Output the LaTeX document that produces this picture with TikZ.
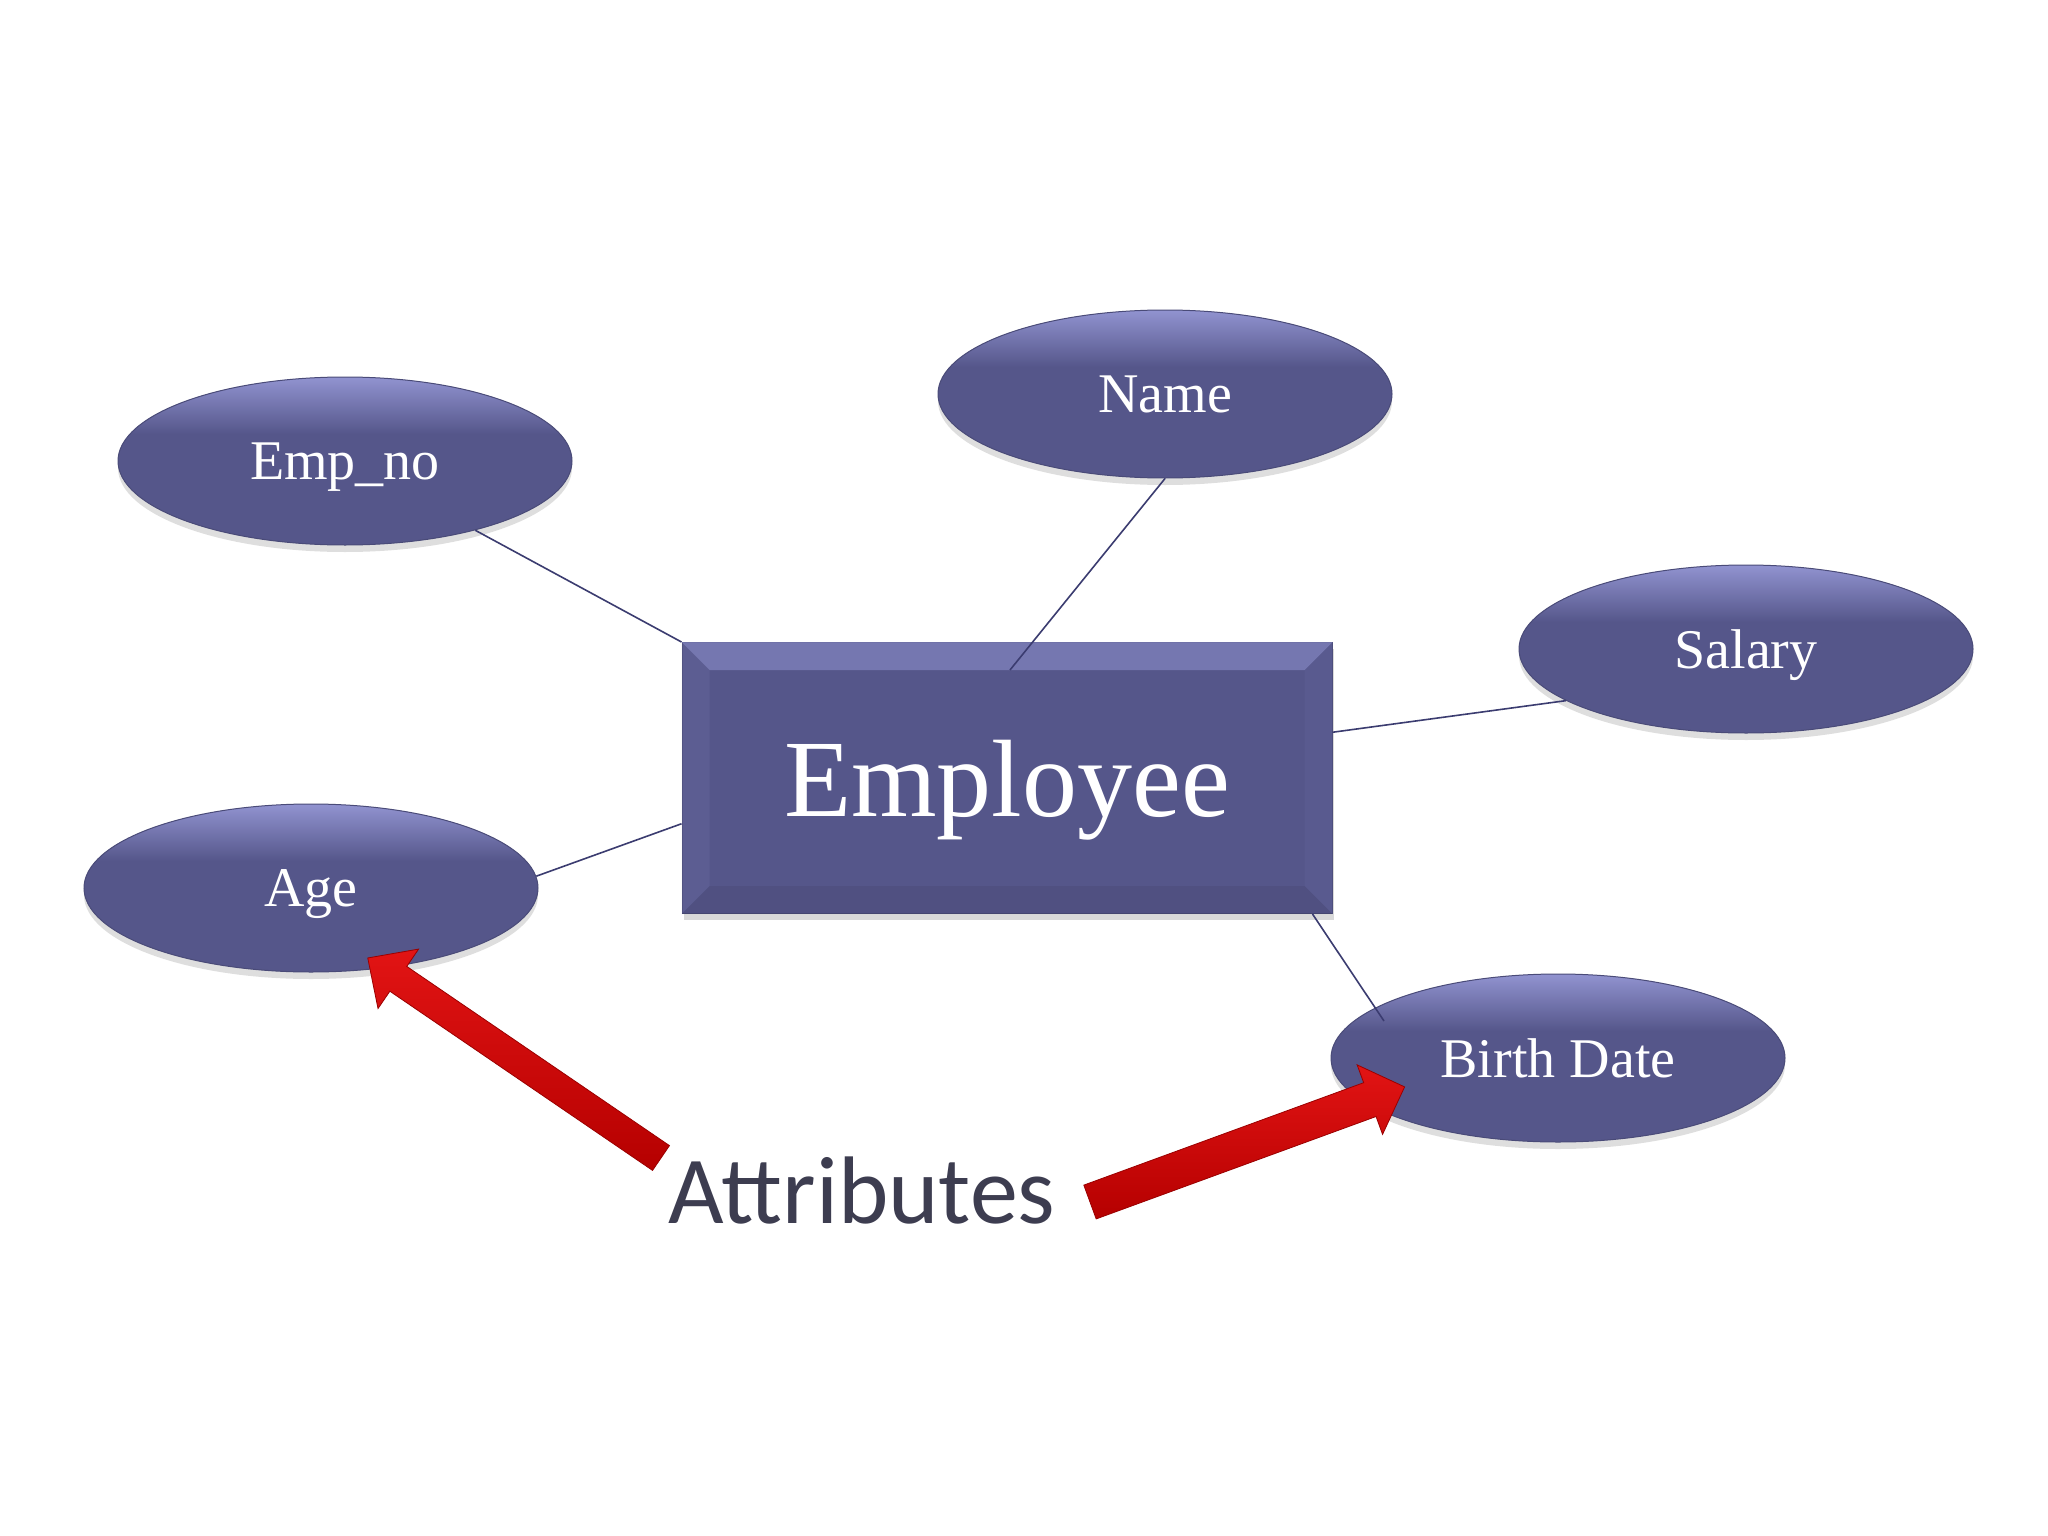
\documentclass[tikz,border=0pt]{standalone}
\usepackage{fontspec}
\setmainfont{Liberation Serif}
\newfontfamily\attrfont{Carlito}
\usetikzlibrary{shapes.geometric,shadows,calc}
\definecolor{ellfill}{HTML}{55568A}
\definecolor{elltop}{HTML}{9193D0}
\definecolor{ellline}{HTML}{4A4B78}
\definecolor{linec}{HTML}{3B3C70}
\definecolor{redA}{HTML}{E21414}
\definecolor{redB}{HTML}{B50000}
\definecolor{attrc}{HTML}{3D3D50}
\pgfdeclareverticalshading{ellshade}{100bp}{color(0bp)=(ellfill); color(25bp)=(ellfill); color(58bp)=(ellfill); color(75bp)=(elltop); color(100bp)=(elltop)}
\tikzset{
 attrell/.style={ellipse, minimum width=454pt, minimum height=168pt, inner sep=0pt, text depth=0pt, shade, shading=ellshade, draw=ellline, line width=1pt, text=white, font=\fontsize{56}{60}\selectfont, drop shadow={shadow xshift=0pt, shadow yshift=-7pt, opacity=0.13, fill=black}},
 entbox/.style={rectangle, minimum width=650pt, minimum height=271pt, inner sep=0pt, text depth=0pt, fill=ellfill, draw=ellline, line width=1pt, text=white, font=\fontsize{110}{120}\selectfont, drop shadow={shadow xshift=2pt, shadow yshift=-6pt, opacity=0.15, fill=black}},
 conn/.style={draw=linec, line width=1.6pt},
 redarrow/.style={top color=redA, bottom color=redB, draw=redB!85!black, line width=0.8pt},
}
\begin{document}
\begin{tikzpicture}[x=1pt,y=-1pt]
\fill[white] (0,0) rectangle (2048,1536);
\useasboundingbox (0,0) rectangle (2048,1536);
% attribute ellipses
\node[attrell] (emp) at (345,461) {Emp\_no};
\node[attrell] (name) at (1165,394) {Name};
\node[attrell] (sal) at (1746,649) {Salary};
\node[attrell] (age) at (311,888) {Age};
\node[attrell] (birth) at (1558,1058) {Birth Date};
% entity
\node[entbox] (ent) at (1007,778) {Employee};
% bevels
\fill[elltop, opacity=0.55] (ent.north west) -- (ent.north east) -- ($(ent.north east)+(-28,28)$) -- ($(ent.north west)+(28,28)$) -- cycle;
\fill[elltop, opacity=0.12] (ent.north west) -- ($(ent.north west)+(28,28)$) -- ($(ent.south west)+(28,-28)$) -- (ent.south west) -- cycle;
\fill[elltop, opacity=0.08] (ent.north east) -- ($(ent.north east)+(-28,28)$) -- ($(ent.south east)+(-28,-28)$) -- (ent.south east) -- cycle;
\fill[black, opacity=0.06] (ent.south west) -- ($(ent.south west)+(28,-28)$) -- ($(ent.south east)+(-28,-28)$) -- (ent.south east) -- cycle;
% connectors
\coordinate (nameend) at (1010,670);
\coordinate (birthend) at (1384,1021);
\draw[conn] (emp.-28) -- (ent.north west);
\draw[conn] (name.south) -- (nameend);
\draw[conn] (ent.8.9) -- (sal.196.5);
\draw[conn] (ent.188.6) -- (age.3);
\draw[conn] (ent.-24.8) -- (birthend);
% label
\node[anchor=base, text=attrc, font=\attrfont\fontsize{96}{100}\selectfont, inner sep=0pt] (attrs) at (862,1223) {Attributes};
% red arrows
\coordinate (tailL) at (661,1158);
\coordinate (tailR) at (1090,1202);
\begin{scope}[shift={(tailL)}, rotate=145.7]
\path[redarrow] (0,-15) -- (318,-15) -- (318,-36) -- (355,0) -- (318,36) -- (318,15) -- (0,15) -- cycle;
\end{scope}
\begin{scope}[shift={(tailR)}, rotate=20.1]
\path[redarrow] (0,-18) -- (298,-18) -- (298,-37) -- (335,0) -- (298,37) -- (298,18) -- (0,18) -- cycle;
\end{scope}
\end{tikzpicture}
\end{document}
